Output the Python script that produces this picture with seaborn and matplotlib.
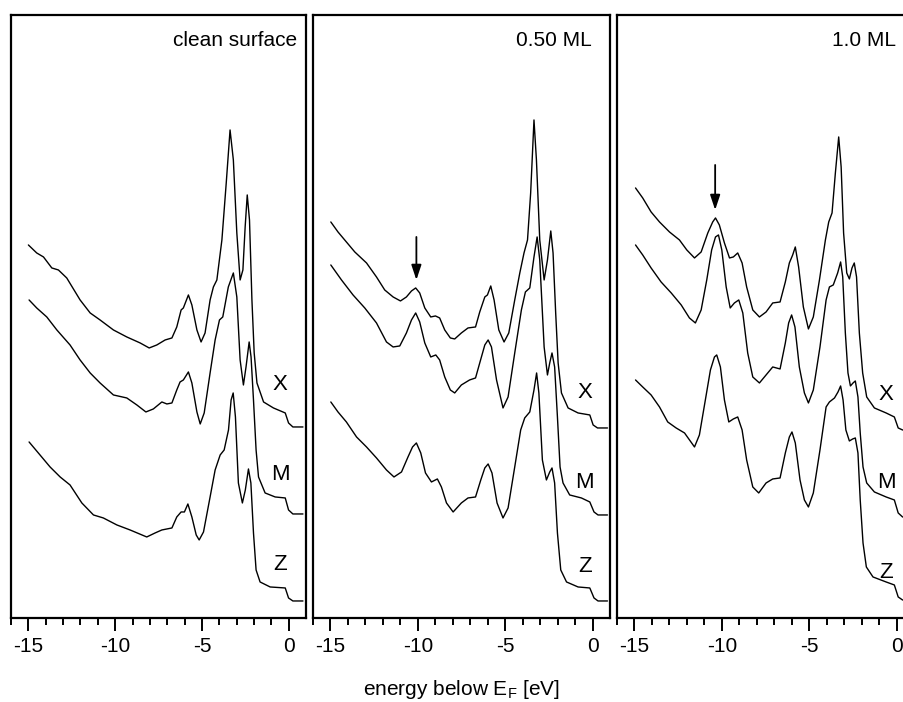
"""
Valence band spectra (X, M, Z) for the clean surface and two coverages.
Three framed panels side by side, curves offset vertically.
"""

import matplotlib
matplotlib.use("Agg")
import matplotlib.pyplot as plt
from matplotlib.ticker import MultipleLocator
import seaborn as sns

# panel titles and curve names
panel_titles = ["clean surface", "0.50 ML", "1.0 ML"]
curve_names = ["X", "M", "Z"]

# clean surface
clean_x_e = [-15.0, -14.52, -14.13, -13.65, -13.27, -12.79, -12.02, -11.44, -10.87, -10.10,
             -9.33, -8.56, -8.04, -7.60, -7.12, -6.73, -6.45, -6.20, -6.07, -5.78,
             -5.58, -5.29, -5.05, -4.82, -4.53, -4.34, -4.14, -3.85, -3.60, -3.38,
             -3.19, -2.99, -2.80, -2.64, -2.51, -2.39, -2.26, -2.12, -1.99, -1.83,
             -1.45, -0.88, -0.20, -0.01, 0.24, 0.82]
clean_x_i = [373, 365, 361, 350, 348, 340, 318, 305, 298, 288,
             281, 275, 270, 273, 278, 280, 291, 308, 310, 323,
             313, 288, 276, 285, 318, 331, 338, 378, 435, 488,
             458, 385, 338, 348, 391, 423, 398, 318, 265, 235,
             216, 210, 205, 195, 191, 191]
clean_m_e = [-14.96, -14.52, -13.94, -13.36, -12.60, -12.02, -11.44, -10.87, -10.10, -9.33,
             -8.75, -8.23, -7.80, -7.31, -7.02, -6.73, -6.45, -6.26, -6.07, -5.78,
             -5.58, -5.29, -5.10, -4.87, -4.53, -4.24, -3.99, -3.80, -3.48, -3.19,
             -2.99, -2.80, -2.61, -2.46, -2.28, -2.17, -2.03, -1.88, -1.74, -1.36,
             -0.78, -0.20, -0.01, 0.24, 0.82]
clean_m_i = [318, 310, 301, 288, 273, 258, 245, 235, 223, 220,
             213, 206, 209, 216, 214, 215, 228, 236, 238, 246,
             235, 206, 194, 205, 245, 278, 298, 301, 331, 345,
             321, 258, 233, 251, 276, 261, 218, 168, 141, 125,
             121, 120, 108, 104, 104]
clean_z_e = [-14.96, -14.33, -13.75, -13.17, -12.60, -11.92, -11.25, -10.68, -9.90, -9.14,
             -8.18, -7.70, -7.31, -6.73, -6.45, -6.20, -6.01, -5.81, -5.58, -5.33,
             -5.16, -4.91, -4.53, -4.24, -3.95, -3.72, -3.47, -3.32, -3.20, -3.07,
             -2.90, -2.67, -2.50, -2.32, -2.18, -2.03, -1.88, -1.65, -1.07, -0.20,
             -0.01, 0.24, 0.82]
clean_z_i = [176, 163, 151, 141, 133, 115, 103, 100, 93, 88,
             81, 85, 88, 90, 101, 106, 106, 114, 101, 83,
             78, 86, 121, 148, 163, 168, 188, 218, 225, 201,
             135, 115, 128, 149, 135, 85, 48, 36, 31, 30,
             20, 17, 17]

# 0.50 ML
half_x_e = [-14.98, -14.57, -14.09, -13.61, -12.94, -12.37, -11.90, -11.42, -11.00, -10.66,
            -10.37, -10.13, -9.90, -9.61, -9.27, -9.00, -8.76, -8.47, -8.15, -7.90,
            -7.52, -7.14, -6.71, -6.47, -6.18, -6.03, -5.84, -5.65, -5.38, -5.08,
            -4.81, -4.47, -4.18, -3.94, -3.74, -3.56, -3.37, -3.23, -3.04, -2.79,
            -2.60, -2.41, -2.28, -2.13, -1.99, -1.80, -1.42, -0.85, -0.18, 0.01,
            0.26, 0.83]
half_x_i = [396, 386, 376, 366, 355, 341, 328, 321, 317, 321,
            327, 330, 325, 310, 301, 302, 300, 288, 280, 279,
            285, 290, 291, 306, 321, 323, 332, 318, 288, 276,
            285, 318, 345, 365, 378, 425, 498, 458, 378, 338,
            358, 387, 365, 305, 255, 225, 210, 205, 203, 193,
            190, 190]
half_m_e = [-14.98, -14.37, -13.71, -13.04, -12.37, -11.80, -11.42, -11.04, -10.66, -10.37,
            -10.13, -9.90, -9.61, -9.27, -8.98, -8.76, -8.47, -8.15, -7.90, -7.52,
            -7.05, -6.71, -6.47, -6.18, -5.99, -5.80, -5.51, -5.14, -4.85, -4.47,
            -4.09, -3.86, -3.61, -3.37, -3.19, -3.04, -2.79, -2.60, -2.47, -2.34,
            -2.19, -2.03, -1.88, -1.71, -1.33, -0.66, -0.18, 0.06, 0.29, 0.83]
half_m_i = [353, 338, 323, 310, 295, 276, 271, 272, 285, 298,
            305, 296, 275, 261, 263, 258, 241, 228, 225, 233,
            238, 240, 255, 273, 278, 271, 238, 210, 221, 265,
            308, 326, 330, 361, 381, 358, 271, 243, 255, 265,
            251, 201, 151, 135, 123, 120, 116, 106, 103, 103]
half_z_e = [-14.98, -14.57, -14.09, -13.51, -12.94, -12.37, -11.80, -11.37, -10.94, -10.57,
            -10.31, -10.09, -9.84, -9.57, -9.23, -8.89, -8.66, -8.37, -7.99, -7.52,
            -7.14, -6.71, -6.41, -6.18, -5.99, -5.77, -5.48, -5.14, -4.85, -4.47,
            -4.13, -3.90, -3.61, -3.37, -3.22, -3.09, -2.89, -2.66, -2.47, -2.34,
            -2.19, -2.03, -1.84, -1.51, -0.85, -0.18, 0.06, 0.29, 0.83]
half_z_i = [216, 206, 196, 181, 171, 160, 148, 141, 146, 161,
            171, 175, 165, 145, 136, 139, 131, 115, 106, 115,
            120, 121, 138, 150, 154, 145, 115, 100, 110, 151,
            188, 200, 206, 228, 245, 225, 158, 138, 146, 150,
            135, 85, 48, 36, 31, 30, 20, 17, 17]

# 1.0 ML
full_x_e = [-14.94, -14.53, -14.05, -13.57, -13.00, -12.43, -12.01, -11.57, -11.19, -10.81,
            -10.53, -10.37, -10.15, -9.86, -9.57, -9.35, -9.10, -8.85, -8.59, -8.24,
            -7.86, -7.48, -7.10, -6.68, -6.38, -6.15, -5.96, -5.81, -5.62, -5.35,
            -5.06, -4.78, -4.43, -4.09, -3.90, -3.71, -3.52, -3.33, -3.19, -3.05,
            -2.87, -2.72, -2.57, -2.44, -2.31, -2.15, -1.96, -1.73, -1.29, -0.62,
            -0.15, 0.07, 0.32, 0.9]
full_x_i = [430, 420, 406, 396, 386, 378, 368, 360, 366, 385,
            396, 400, 393, 375, 360, 361, 365, 355, 331, 308,
            301, 306, 315, 316, 336, 355, 363, 371, 351, 311,
            289, 301, 338, 378, 396, 405, 445, 481, 451, 385,
            345, 339, 350, 355, 341, 285, 245, 221, 210, 205,
            201, 190, 188, 188]
full_m_e = [-14.94, -14.53, -14.05, -13.48, -12.90, -12.33, -11.86, -11.52, -11.19, -10.87,
            -10.59, -10.37, -10.20, -10.01, -9.76, -9.53, -9.29, -9.04, -8.81, -8.53,
            -8.24, -7.86, -7.48, -7.10, -6.68, -6.38, -6.19, -6.02, -5.83, -5.58,
            -5.29, -5.06, -4.78, -4.40, -4.05, -3.86, -3.64, -3.39, -3.22, -3.10,
            -2.95, -2.80, -2.66, -2.51, -2.38, -2.23, -2.10, -1.94, -1.73, -1.29,
            -0.62, -0.15, 0.07, 0.32, 0.9]
full_m_i = [373, 363, 350, 336, 325, 313, 300, 295, 308, 338,
            368, 381, 383, 368, 331, 310, 315, 318, 305, 265,
            241, 235, 243, 251, 249, 275, 295, 303, 291, 251,
            225, 215, 228, 271, 318, 331, 333, 345, 356, 341,
            285, 245, 232, 235, 237, 221, 185, 151, 135, 126,
            121, 118, 105, 101, 101]
full_z_e = [-14.94, -14.53, -14.05, -13.57, -13.10, -12.62, -12.14, -11.57, -11.29, -10.95,
            -10.66, -10.43, -10.30, -10.09, -9.86, -9.61, -9.35, -9.10, -8.85, -8.59,
            -8.24, -7.90, -7.48, -7.10, -6.68, -6.38, -6.15, -6.00, -5.81, -5.54,
            -5.29, -5.06, -4.78, -4.40, -4.05, -3.86, -3.57, -3.37, -3.22, -3.08,
            -2.92, -2.72, -2.53, -2.38, -2.23, -2.10, -1.94, -1.75, -1.37, -0.62,
            -0.15, 0.07, 0.32, 0.9]
full_z_i = [238, 231, 223, 211, 196, 190, 185, 171, 183, 218,
            248, 261, 263, 251, 218, 196, 199, 201, 188, 158,
            131, 125, 135, 139, 140, 165, 181, 186, 175, 138,
            118, 111, 125, 168, 211, 216, 220, 226, 232, 218,
            188, 177, 179, 180, 165, 118, 75, 51, 41, 36,
            33, 21, 18, 18]

# arrows mark the adsorbate peak (energy, top, tip) -- none for the clean surface
arrow_marks = [None, (-10.09, 381, 338), (-10.39, 453, 408)]

panels = [
    [(clean_x_e, clean_x_i), (clean_m_e, clean_m_i), (clean_z_e, clean_z_i)],
    [(half_x_e, half_x_i), (half_m_e, half_m_i), (half_z_e, half_z_i)],
    [(full_x_e, full_x_i), (full_m_e, full_m_i), (full_z_e, full_z_i)],
]


def main():
    sns.set_style("ticks")
    plt.rcParams['font.family'] = ['Liberation Sans', 'DejaVu Sans']
    plt.rcParams['mathtext.fontset'] = 'custom'
    plt.rcParams['mathtext.rm'] = 'Liberation Sans'
    plt.rcParams['axes.unicode_minus'] = False
    plt.rcParams['text.color'] = 'black'
    plt.rcParams['xtick.color'] = 'black'
    plt.rcParams['xtick.labelcolor'] = 'black'

    fig = plt.figure(figsize=(9.04, 7.02), dpi=100)

    # axes boxes in figure fractions; the last one runs off the right edge
    lefts = [0.0122, 0.3462, 0.6825]
    widths = [0.3258, 0.3285, 0.3285]
    label_x = [-0.49, -0.47, -0.63]
    label_y = [[233, 143, 53], [225, 135, 51], [223, 135, 45]]
    title_x = [0.971, 0.940, 0.940]

    for k, curves in enumerate(panels):
        ax = fig.add_axes([lefts[k], 0.1197, widths[k], 0.859])
        for (e, i) in curves:
            sns.lineplot(x=e, y=i, ax=ax, color='black', linewidth=1.0,
                         estimator=None, sort=False)
        for name, y in zip(curve_names, label_y[k]):
            ax.text(label_x[k], y, name, ha='center', va='center', fontsize=16)

        ax.text(title_x[k], 0.958, panel_titles[k], transform=ax.transAxes,
                ha='right', va='center', fontsize=15)

        if arrow_marks[k] is not None:
            ex, y0, y1 = arrow_marks[k]
            ax.annotate('', xy=(ex, y1), xytext=(ex, y0),
                        arrowprops=dict(arrowstyle='-|>,head_length=0.9,head_width=0.3',
                                        color='black', lw=1.3, shrinkA=0, shrinkB=0))

        ax.set_xlim(-16.0, 0.97)
        ax.set_ylim(0, 603)
        ax.set_yticks([])
        ax.set_xlabel('')
        ax.set_ylabel('')
        ax.xaxis.set_major_locator(MultipleLocator(5))
        ax.xaxis.set_minor_locator(MultipleLocator(1))
        ax.tick_params(axis='x', which='major', length=9, width=1.4,
                       direction='out', labelsize=15, pad=5, color='black')
        ax.tick_params(axis='x', which='minor', length=5, width=1.4,
                       direction='out', color='black')
        for s in ax.spines.values():
            s.set_visible(True)
            s.set_color('black')
            s.set_linewidth(1.6)

    fig.text(0.51, 0.018, r'energy below E$_\mathrm{F}$ [eV]',
             ha='center', va='center', fontsize=15)

    fig.savefig('out.png', dpi=100)


if __name__ == "__main__":
    main()
